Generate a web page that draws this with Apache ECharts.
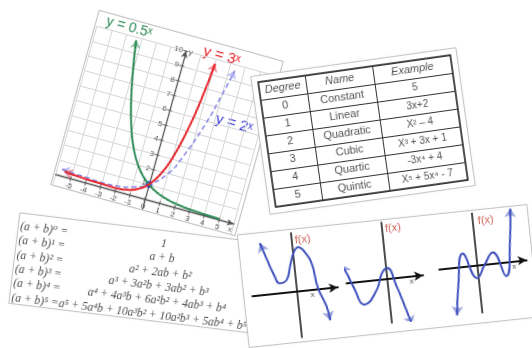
<!DOCTYPE html>
<html>
<head>
<meta charset="utf-8">
<script src="https://cdn.jsdelivr.net/npm/echarts@6.0.0/dist/echarts.min.js"></script>
<style>
html,body{margin:0;padding:0;width:532px;height:348px;background:#fff;overflow:hidden;}
.card{position:absolute;background:#fff;outline:1px solid #c4c4c4;box-shadow:0 0 3px rgba(0,0,0,0.15);overflow:hidden;}
</style>
</head>
<body>
<div id="expCard" class="card"></div>
<div id="binomCard" class="card"></div>
<div id="polyCard" class="card"></div>
<div id="tableCard" class="card"></div>
<script>
// ================= DATA =================
// Card 1 : exponential functions
const greenX = [-3.3, -3, -2.5, -2, -1.5, -1, -0.5, 0, 0.5, 1, 1.5, 2, 3, 4, 5];
const greenY = [9.8, 8, 5.66, 4, 2.83, 2, 1.41, 1, 0.71, 0.5, 0.36, 0.26, 0.15, 0.1, 0.07];
const redX = [-5.5, -5, -4, -3, -2, -1, -0.5, 0, 0.5, 1, 1.5, 1.8, 2.05];
const redY = [0.35, 0.3, 0.25, 0.22, 0.2, 0.36, 0.6, 1, 1.75, 3.0, 5.2, 7.2, 9.7];
const blueX = [-5.7, -5, -4, -3, -2, -1, 0, 1, 1.6, 2.5, 3, 3.4];
const blueY = [0.45, 0.4, 0.35, 0.3, 0.35, 0.55, 1, 2, 3.2, 5.8, 7.8, 9.6];
const meetPoint = [0, 1];
const xTickLabels = ['-5', '-4', '-3', '-2', '-1', '0', '1', '2', '3', '4', '5'];
const yTickLabels = ['1', '2', '3', '4', '5', '6', '7', '8', '9', '10'];
const axisNames = ['x', 'y'];
const curveLabels = ['y = 0.5ˣ', 'y = 3ˣ', 'y = 2ˣ'];

// Card 2 : polynomial table
const tableHeader = ['Degree', 'Name', 'Example'];
const degrees = ['0', '1', '2', '3', '4', '5'];
const polyNames = ['Constant', 'Linear', 'Quadratic', 'Cubic', 'Quartic', 'Quintic'];
const polyExamples = ['5', '3x+2', 'X² – 4', 'X³ + 3x + 1', '-3x⁴ + 4', 'X⁵ + 5x⁴ - 7'];

// Card 3 : binomial expansions
const binomLeft = ['(a + b)⁰ =', '(a + b)¹ =', '(a + b)² =', '(a + b)³ =', '(a + b)⁴ =', '(a + b)⁵ ='];
const binomRight = ['1', 'a + b', 'a² + 2ab + b²', 'a³ + 3a²b + 3ab² + b³',
  'a⁴ + 4a³b + 6a²b² + 4ab³ + b⁴', 'a⁵ + 5a⁴b + 10a³b² + 10a²b³ + 5ab⁴ + b⁵'];

// Card 4 : three polynomial graphs
const poly1X = [-3.2, -2.6, -2.2, -1.6, -0.9, -0.45, 0.1, 0.55, 1.2, 1.74, 2.1, 2.78, 3.0];
const poly1Y = [5.2, 3.3, 2.1, 1.0, 1.3, 2.55, 4.0, 4.4, 3.8, 2.66, 0.2, -1.8, -3.2];
const poly2X = [-4.4, -3.9, -3.46, -2.5, -1.17, -0.5, 0.1, 0.86, 1.47, 2.0];
const poly2Y = [1.9, 0.8, -0.4, -2.3, -0.97, 0.6, 1.1, -0.85, -2.93, -4.8];
const poly3X = [-2.5, -2.08, -1.3, -0.1, 0.8, 1.7, 2.8, 3.55, 3.9];
const poly3Y = [-4.8, -1.95, 1.3, -1.3, 0.0, 1.1, -1.4, 2.15, 5.3];
const fxLabel = 'f(x)';
const xLabel = 'x';

// ================= LAYOUT =================
const L = {
  exp:   {cx: 166.5, cy: 122.7, w: 190, h: 180, rot: 15.5, z: 1},
  binom: {cx: 135.6, cy: 272.6, w: 244, h: 90,  rot: 7,    z: 2},
  poly:  {cx: 388,   cy: 276,   w: 290, h: 112, rot: -6,   z: 2},
  table: {cx: 362.8, cy: 130.9, w: 206, h: 138, rot: -8,   z: 3}
};
function place(id, c) {
  const el = document.getElementById(id);
  el.style.left = (c.cx - c.w / 2) + 'px';
  el.style.top = (c.cy - c.h / 2) + 'px';
  el.style.width = c.w + 'px';
  el.style.height = c.h + 'px';
  el.style.transform = 'rotate(' + c.rot + 'deg)';
  el.style.zIndex = c.z;
  return el;
}
const zip = (xs, ys) => xs.map((x, i) => [x, ys[i]]);
function arrow(xs, ys, atEnd, color, width) {
  const n = xs.length;
  const i = atEnd ? n - 1 : 0, j = atEnd ? n - 2 : 1;
  const from = [xs[i] + (xs[j] - xs[i]) * 0.3, ys[i] + (ys[j] - ys[i]) * 0.3];
  return {coords: [from, [xs[i], ys[i]]], lineStyle: {color: color, width: width, type: 'solid'}};
}
const SANS = '"Liberation Sans", Arial, "DejaVu Sans", sans-serif';
const SERIF = '"Liberation Serif", "Times New Roman", "DejaVu Serif", serif';

// ================= CARD 1 =================
(function () {
  const U = 15.4, O = [94, 169.5];
  const green = '#2e8b57', red = '#e5262d', blueLine = '#8585e6', blueText = '#3d3dd6';
  const axisCol = '#555';
  const tickLabelData = xTickLabels.map(t => ({name: t, value: [Number(t), 0],
      label: {position: 'bottom', distance: 3}}))
    .concat(yTickLabels.map(t => ({name: t, value: [0, Number(t)],
      label: {position: 'left', distance: 3}})))
    .concat([{name: axisNames[0], value: [5.85, 0], label: {position: 'bottom', distance: 2}},
             {name: axisNames[1], value: [0, 9.95], label: {position: 'right', distance: 3}}]);
  const tickMarkData = xTickLabels.map(t => ({value: [Number(t), 0], symbolSize: [1, 5]}))
    .concat(yTickLabels.map(t => ({value: [0, Number(t)], symbolSize: [5, 1]})));
  const chart = echarts.init(place('expCard', L.exp));
  chart.setOption({
    animation: false,
    grid: {left: O[0] - 6 * U, top: O[1] - 10 * U, width: 12 * U, height: 11 * U, containLabel: false, outerBoundsMode: 'none'},
    xAxis: {
      type: 'value', min: -6, max: 6, interval: 1,
      axisLine: {onZero: true, symbol: ['none', 'arrow'], symbolSize: [5, 7], lineStyle: {color: axisCol, width: 1.3}},
      axisTick: {show: false}, axisLabel: {show: false},
      splitLine: {show: true, lineStyle: {color: '#d6d6d6', width: 1}}
    },
    yAxis: {
      type: 'value', min: -1, max: 10, interval: 1,
      axisLine: {show: true, onZero: true, symbol: ['none', 'arrow'], symbolSize: [5, 7], lineStyle: {color: axisCol, width: 1.3}},
      axisTick: {show: false}, axisLabel: {show: false},
      splitLine: {show: true, lineStyle: {color: '#d6d6d6', width: 1}}
    },
    series: [
      {type: 'scatter', data: tickMarkData, symbol: 'rect', itemStyle: {color: axisCol}, z: 1},
      {type: 'scatter', data: tickLabelData, symbol: 'rect', symbolSize: [0.1, 0.1], itemStyle: {color: 'rgba(0,0,0,0)'},
        label: {show: true, formatter: '{b}', fontSize: 8, color: '#333', fontFamily: SANS}},
      {type: 'line', data: zip(blueX, blueY), smooth: true, showSymbol: false,
        lineStyle: {color: blueLine, width: 1.5, type: [5, 3]}},
      {type: 'line', data: zip(greenX, greenY), smooth: true, showSymbol: false,
        lineStyle: {color: green, width: 2}},
      {type: 'line', data: zip(redX, redY), smooth: true, showSymbol: false,
        lineStyle: {color: red, width: 2}},
      {type: 'lines', coordinateSystem: 'cartesian2d', symbol: ['none', 'arrow'], symbolSize: 8,
        data: [
          arrow(greenX, greenY, false, green, 2),
          arrow(redX, redY, false, red, 2),
          arrow(redX, redY, true, red, 2),
          arrow(blueX, blueY, false, blueLine, 1.5),
          arrow(blueX, blueY, true, blueLine, 1.5)
        ]},
      {type: 'scatter', data: [meetPoint], symbolSize: 7, itemStyle: {color: '#1b2fd8'}}
    ],
    graphic: [
      {type: 'text', x: 33, y: 8, style: {text: curveLabels[0], fill: green, font: '14px ' + SANS, align: 'center', verticalAlign: 'middle'}},
      {type: 'text', x: 130, y: 11, style: {text: curveLabels[1], fill: red, font: '15px ' + SANS, align: 'center', verticalAlign: 'middle'}},
      {type: 'text', x: 160, y: 73, style: {text: curveLabels[2], fill: blueText, font: '15px ' + SANS, align: 'center', verticalAlign: 'middle'}}
    ]
  });
})();

// ================= CARD 2 : table =================
(function () {
  const colW = [47, 68, 79];
  const W = colW.reduce((a, b) => a + b, 0), H = 126, M = 6;
  const edges = [0]; colW.forEach((w, i) => edges.push(edges[i] + w));
  const centers = colW.map((w, i) => edges[i] + w / 2);
  const rows = ['header'].concat(degrees);
  const cells = [];
  tableHeader.forEach((t, c) => cells.push({name: t, value: [centers[c], 0],
    label: {formatter: '{it|{b}}'}}));
  degrees.forEach((d, r) => {
    cells.push({name: d, value: [centers[0], r + 1]});
    cells.push({name: polyNames[r], value: [centers[1], r + 1]});
    cells.push({name: polyExamples[r], value: [centers[2], r + 1], label: {fontSize: 10}});
  });
  const chart = echarts.init(place('tableCard', L.table));
  chart.setOption({
    animation: false,
    grid: {left: M, top: M, width: W, height: H, show: true, borderColor: '#222', borderWidth: 1.6,
      containLabel: false, outerBoundsMode: 'none'},
    xAxis: {type: 'value', min: 0, max: W, show: false},
    yAxis: {type: 'category', data: rows, inverse: true,
      axisLine: {show: false}, axisTick: {show: false}, axisLabel: {show: false},
      splitLine: {show: true, lineStyle: {color: '#333', width: 1}}},
    series: [{
      type: 'scatter', symbolSize: 1, itemStyle: {color: 'rgba(0,0,0,0)'},
      data: cells,
      label: {show: true, position: 'inside', formatter: '{b}', color: '#262626', fontSize: 11, fontFamily: SANS,
        rich: {it: {fontStyle: 'italic', fontSize: 11, color: '#262626', fontFamily: SANS}}},
      markLine: {silent: true, symbol: 'none', label: {show: false},
        lineStyle: {color: '#333', type: 'solid', width: 1},
        data: edges.slice(1, -1).map(e => ({xAxis: e}))}
    }]
  });
})();

// ================= CARD 3 : binomial =================
(function () {
  const top0 = 13, step = 14.3, rightC = 146, lastStart = 49;
  const g = [];
  binomLeft.forEach((t, i) => {
    g.push({type: 'text', x: 1.5, y: top0 + i * step,
      style: {text: t, fill: '#4d4d4d', font: 'italic 11.5px ' + SERIF, align: 'left', verticalAlign: 'middle'}});
  });
  binomRight.forEach((t, i) => {
    const last = i === binomRight.length - 1;
    g.push({type: 'text', x: last ? lastStart : rightC, y: top0 + i * step,
      style: {text: t, fill: '#4d4d4d', font: 'italic 11.5px ' + SERIF, align: last ? 'left' : 'center', verticalAlign: 'middle'}});
  });
  const chart = echarts.init(place('binomCard', L.binom));
  chart.setOption({animation: false, graphic: g});
})();

// ================= CARD 4 : polynomial graphs =================
(function () {
  const U = 10;
  const origins = [[53, 62], [144, 59], [234.6, 54.4]];
  const xr = [[-4.5, 4.1], [-4.1, 3.6], [-3.8, 5.0]];
  const yr = [[-4.6, 5.9], [-4.4, 5.7], [-4.8, 5.2]];
  const fxPos = [[0.25, 5.1], [0.25, 5.0], [0.5, 4.35]];
  const xlPos = [[1.5, -0.45], [2.4, -0.5], [3.7, -0.55]];
  const curves = [[poly1X, poly1Y], [poly2X, poly2Y], [poly3X, poly3Y]];
  const curveColor = '#4052bd';
  const grids = [], xAxes = [], yAxes = [], series = [];
  origins.forEach((o, i) => {
    grids.push({left: o[0] + xr[i][0] * U, top: o[1] - yr[i][1] * U,
      width: (xr[i][1] - xr[i][0]) * U, height: (yr[i][1] - yr[i][0]) * U,
      containLabel: false, outerBoundsMode: 'none'});
    xAxes.push({type: 'value', gridIndex: i, min: xr[i][0], max: xr[i][1],
      axisLine: {onZero: true, symbol: ['none', 'arrow'], symbolSize: [7, 9], lineStyle: {color: '#111', width: 1.8}},
      axisTick: {show: false}, axisLabel: {show: false}, splitLine: {show: false}});
    yAxes.push({type: 'value', gridIndex: i, min: yr[i][0], max: yr[i][1],
      axisLine: {show: true, onZero: true, lineStyle: {color: '#111', width: 1.5}},
      axisTick: {show: false}, axisLabel: {show: false}, splitLine: {show: false}});
    const cx = curves[i][0], cy = curves[i][1];
    series.push({type: 'line', xAxisIndex: i, yAxisIndex: i, data: zip(cx, cy), smooth: true,
      showSymbol: false, lineStyle: {color: curveColor, width: 2}});
    series.push({type: 'lines', coordinateSystem: 'cartesian2d', xAxisIndex: i, yAxisIndex: i,
      symbol: ['none', 'arrow'], symbolSize: 9,
      data: [arrow(cx, cy, false, curveColor, 2), arrow(cx, cy, true, curveColor, 2)]});
    series.push({type: 'scatter', xAxisIndex: i, yAxisIndex: i, symbolSize: 1, itemStyle: {color: 'rgba(0,0,0,0)'},
      data: [{value: fxPos[i], name: fxLabel, label: {position: 'right', distance: 0, color: '#c0392b', fontSize: 11}},
             {value: xlPos[i], name: xLabel, label: {position: 'inside', color: '#222', fontSize: 8}}],
      label: {show: true, formatter: '{b}', fontFamily: SANS}});
  });
  const chart = echarts.init(place('polyCard', L.poly));
  chart.setOption({animation: false, grid: grids, xAxis: xAxes, yAxis: yAxes, series: series});
})();
</script>
</body>
</html>
